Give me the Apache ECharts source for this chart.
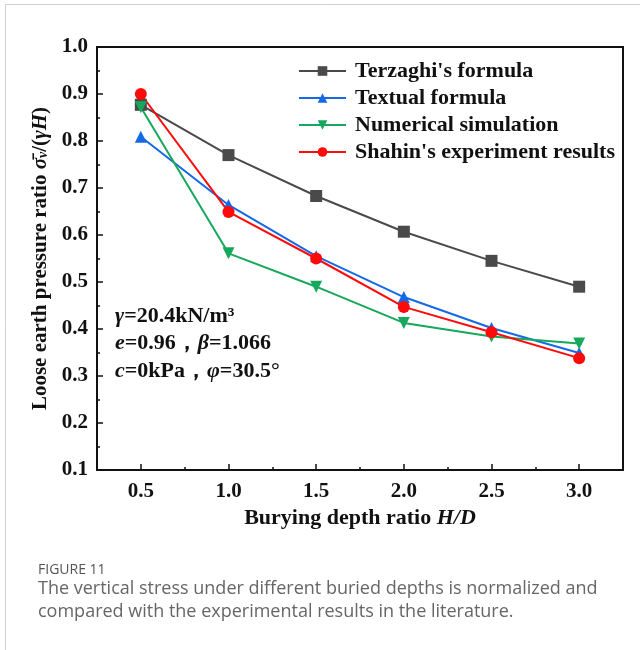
<!DOCTYPE html>
<html>
<head>
<meta charset="utf-8">
<script src="https://cdn.jsdelivr.net/npm/echarts@6/dist/echarts.min.js"></script>
<style>
  html, body { margin: 0; padding: 0; background: #fff; }
  #main { width: 640px; height: 650px; }
</style>
</head>
<body>
<div id="main"></div>
<script>
  // burying depth ratio H/D
  var depth = [0.5, 1.0, 1.5, 2.0, 2.5, 3.0]
  var terzaghi = [0.877, 0.770, 0.683, 0.607, 0.545, 0.490]
  var textual = [0.809, 0.664, 0.555, 0.468, 0.402, 0.349]
  var numerical = [0.872, 0.561, 0.490, 0.413, 0.384, 0.369]
  var shahin = [0.900, 0.649, 0.550, 0.447, 0.393, 0.338]
  var xMajor = [0.5, 1.0, 1.5, 2.0, 2.5, 3.0]
  var xMinor = [0.75, 1.25, 1.75, 2.25, 2.75]
  var seriesNames = ["Terzaghi's formula", 'Textual formula', 'Numerical simulation', "Shahin's experiment results"]

  var serif = 'Liberation Serif'

  function pairs(vals) {
    var out = []
    for (var i = 0; i < depth.length; i++) {
      out.push([depth[i], vals[i]])
    }
    return out
  }

  function makeSeries(name, vals, color, symbol, rotate) {
    return {
      name: name,
      type: 'line',
      xAxisIndex: 0,
      data: pairs(vals),
      symbol: symbol,
      symbolSize: 12,
      symbolRotate: rotate || 0,
      showSymbol: true,
      lineStyle: { width: 2, color: color },
      itemStyle: { color: color },
      color: color
    }
  }

  var chart = echarts.init(document.getElementById('main'))
  var option = {
    animation: false,
    backgroundColor: '#fff',
    grid: {
      left: 97,
      right: 17,
      top: 47,
      bottom: 180,
      show: true,
      borderColor: '#111',
      borderWidth: 2
    },
    legend: {
      orient: 'vertical',
      left: 293,
      top: 55,
      itemWidth: 47,
      itemHeight: 12,
      itemGap: 5,
      data: seriesNames,
      textStyle: { fontFamily: serif, fontWeight: 'bold', fontSize: 22, color: '#111', padding: [0, 0, 0, 4] }
    },
    xAxis: [
      {
        type: 'value',
        min: 0.25,
        max: 3.25,
        position: 'bottom',
        axisLine: { lineStyle: { color: '#111', width: 2 } },
        axisTick: { inside: true, length: 6, customValues: xMajor, lineStyle: { color: '#111', width: 1.5 } },
        axisLabel: {
          customValues: xMajor,
          margin: 11,
          fontFamily: serif, fontWeight: 'bold', fontSize: 21, color: '#111',
          formatter: function (v) { return v.toFixed(1) }
        },
        splitLine: { show: false },
        name: '{n|Burying depth ratio }{i|H/D}',
        nameLocation: 'middle',
        nameGap: 37,
        nameTextStyle: {
          rich: {
            n: { fontFamily: serif, fontWeight: 'bold', fontSize: 22, color: '#111' },
            i: { fontFamily: serif, fontWeight: 'bold', fontStyle: 'italic', fontSize: 22, color: '#111' }
          }
        }
      },
      {
        type: 'value',
        min: 0.25,
        max: 3.25,
        position: 'bottom',
        axisLine: { show: false },
        axisTick: { inside: true, length: 3, customValues: xMinor, lineStyle: { color: '#111', width: 1.5 } },
        axisLabel: { show: false },
        splitLine: { show: false }
      }
    ],
    yAxis: {
      type: 'value',
      min: 0.1,
      max: 1.0,
      interval: 0.1,
      axisLine: { show: true, lineStyle: { color: '#111', width: 2 } },
      axisTick: { show: true, inside: true, length: 6, lineStyle: { color: '#111', width: 1.5 } },
      minorTick: { show: true, splitNumber: 2, length: 3, lineStyle: { color: '#111', width: 1.5 } },
      axisLabel: {
        margin: 9,
        fontFamily: serif, fontWeight: 'bold', fontSize: 21, color: '#111',
        formatter: function (v) { return v.toFixed(1) }
      },
      splitLine: { show: false },
      name: '{n|Loose earth pressure ratio }{i|σ̄}{s|v}{n|/(}{i|γH}{n|)}',
      nameLocation: 'middle',
      nameRotate: 90,
      nameGap: 45,
      nameTextStyle: {
        rich: {
          n: { fontFamily: serif, fontWeight: 'bold', fontSize: 21, color: '#111' },
          i: { fontFamily: serif, fontWeight: 'bold', fontStyle: 'italic', fontSize: 21, color: '#111' },
          s: { fontFamily: serif, fontWeight: 'bold', fontStyle: 'italic', fontSize: 14, color: '#111', verticalAlign: 'bottom', padding: [7, 0, 0, 0] }
        }
      }
    },
    series: [
      makeSeries(seriesNames[0], terzaghi, '#4a4a4a', 'rect'),
      makeSeries(seriesNames[1], textual, '#1469e6', 'triangle'),
      makeSeries(seriesNames[2], numerical, '#16a85c', 'triangle', 180),
      makeSeries(seriesNames[3], shahin, '#ff0a0a', 'circle')
    ],
    graphic: [
      // panel frame
      { type: 'line', shape: { x1: 5.5, y1: 4.5, x2: 640, y2: 4.5 }, style: { stroke: '#d0d0d0', lineWidth: 1 } },
      { type: 'line', shape: { x1: 5.5, y1: 4.5, x2: 5.5, y2: 650 }, style: { stroke: '#d0d0d0', lineWidth: 1 } },
      {
        type: 'text', left: 115, top: 305,
        style: {
          text: '{i|γ}{n|=20.4kN/m³}\n{i|e}{n|=0.96，}{i|β}{n|=1.066}\n{i|c}{n|=0kPa，}{i|φ}{n|=30.5°}',
          rich: {
            n: { fontFamily: serif, fontWeight: 'bold', fontSize: 22, fill: '#111', lineHeight: 27.5 },
            i: { fontFamily: serif, fontWeight: 'bold', fontStyle: 'italic', fontSize: 22, fill: '#111', lineHeight: 27.5 }
          }
        }
      },
      {
        type: 'text', left: 38, top: 563,
        style: { text: 'FIGURE 11', font: '14px "Open Sans"', fill: '#555' }
      },
      {
        type: 'text', left: 38, top: 577,
        style: {
          text: 'The vertical stress under different buried depths is normalized and\ncompared with the experimental results in the literature.',
          font: '18px "Open Sans"', fill: '#666', lineHeight: 23
        }
      }
    ]
  }
  chart.setOption(option)
</script>
</body>
</html>
